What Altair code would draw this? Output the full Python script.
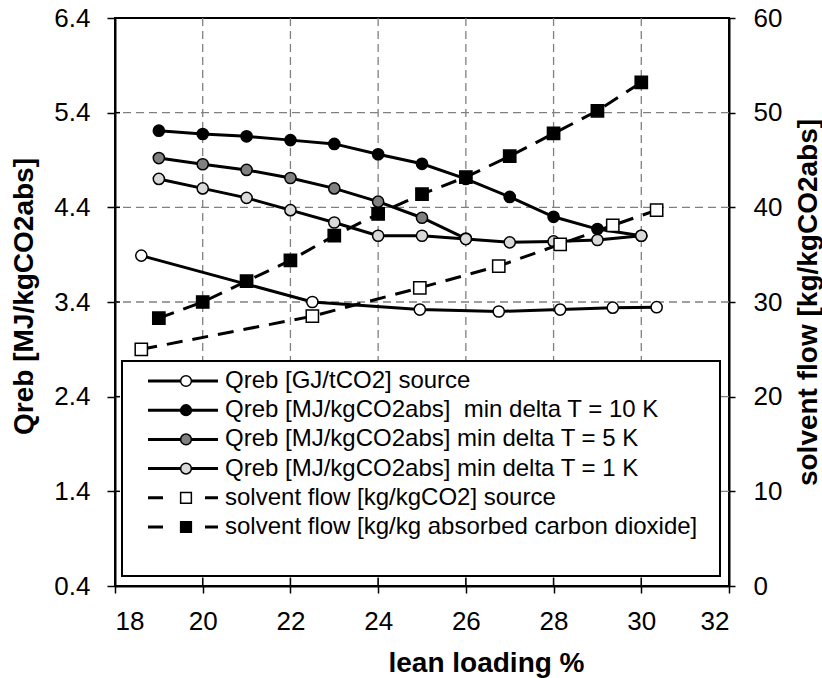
import altair as alt
import pandas as pd

# Lean loading (%) where the published source values were reported
lean_src = [18.6, 22.5, 24.95, 26.75, 28.15, 29.35, 30.35]
qreb_src = [3.89, 3.40, 3.32, 3.30, 3.32, 3.34, 3.345]          # GJ/tCO2
flow_src = [25.0, 28.5, 31.5, 33.8, 36.1, 38.1, 39.7]           # kg/kgCO2

# Simulated cases
lean = [19, 20, 21, 22, 23, 24, 25, 26, 27, 28, 29, 30]
qreb_10k = [5.21, 5.175, 5.15, 5.11, 5.07, 4.96, 4.86, 4.70, 4.51, 4.30, 4.17, 4.10]
lean_5k = [19, 20, 21, 22, 23, 24, 25, 26]
qreb_5k = [4.92, 4.855, 4.795, 4.71, 4.60, 4.46, 4.29, 4.07]
qreb_1k = [4.70, 4.60, 4.50, 4.37, 4.24, 4.10, 4.10, 4.065, 4.03, 4.04, 4.055, 4.10]
flow_abs = [28.3, 30.0, 32.2, 34.4, 37.0, 39.3, 41.4, 43.2, 45.4, 47.8, 50.2, 53.2]

# Axis ticks and grid positions
x_ticks = [18, 20, 22, 24, 26, 28, 30, 32]
q_ticks = [0.4, 1.4, 2.4, 3.4, 4.4, 5.4, 6.4]
flow_ticks = [0, 10, 20, 30, 40, 50, 60]
x_grid = [20, 22, 24, 26, 28, 30]
q_grid = [1.4, 2.4, 3.4, 4.4, 5.4]

legend_labels = [
    "Qreb [GJ/tCO2] source",
    "Qreb [MJ/kgCO2abs]\u00a0 min delta T = 10 K",
    "Qreb [MJ/kgCO2abs] min delta T = 5 K",
    "Qreb [MJ/kgCO2abs] min delta T = 1 K",
    "solvent flow [kg/kgCO2] source",
    "solvent flow [kg/kg absorbed carbon dioxide]",
]
legend_fills = ["white", "black", "#808080", "#d9d9d9", "white", "black"]
legend_shapes = ["circle", "circle", "circle", "circle", "square", "square"]
legend_dashed = [False, False, False, False, True, True]

FONT = "Liberation Sans"

x_enc = alt.X(
    "lean:Q",
    scale=alt.Scale(domain=[18, 32], nice=False, zero=False),
    axis=alt.Axis(
        values=x_ticks, grid=False, tickSize=7, labelPadding=15,
        title="lean loading %", titleX=371, titleY=85,
        titleBaseline="alphabetic", titleAlign="center",
    ),
)

q_axis = alt.Axis(
    values=q_ticks, format=".1f", grid=False, tickSize=8, labelPadding=17,
    title="Qreb [MJ/kgCO2abs]", titleAngle=270, titleX=-91, titleY=278,
    titleBaseline="middle", titleAlign="center",
)
q_scale = alt.Scale(domain=[0.4, 6.4], nice=False, zero=False)

f_axis = alt.Axis(
    values=flow_ticks, grid=False, tickSize=6, labelPadding=18, orient="right",
    title="solvent flow [kg/kgCO2abs]", titleAngle=270, titleX=79, titleY=284,
    titleBaseline="middle", titleAlign="center",
)
f_scale = alt.Scale(domain=[0, 60], nice=False, zero=False)


def qreb_series(xs, ys, fill):
    df = pd.DataFrame({"lean": xs, "q": ys})
    base = alt.Chart(df).encode(x=x_enc, y=alt.Y("q:Q", scale=q_scale, axis=q_axis))
    line = base.mark_line(color="black", strokeWidth=3)
    pts = base.mark_point(shape="circle", filled=True, size=125, fill=fill,
                          stroke="black", strokeWidth=1.5, opacity=1)
    return [line, pts]


def flow_series(xs, ys, fill):
    df = pd.DataFrame({"lean": xs, "f": ys})
    base = alt.Chart(df).encode(x=x_enc, y=alt.Y("f:Q", scale=f_scale, axis=f_axis))
    line = base.mark_line(color="black", strokeWidth=3, strokeDash=[16, 10])
    pts = base.mark_point(shape="square", filled=True, size=150, fill=fill,
                          stroke="black", strokeWidth=1.5, opacity=1)
    return [line, pts]


grid_style = dict(color="#808080", strokeWidth=1.3, strokeDash=[8, 5])
vgrid = alt.Chart(pd.DataFrame({"lean": x_grid})).mark_rule(**grid_style).encode(x=x_enc)
hgrid = alt.Chart(pd.DataFrame({"q": q_grid})).mark_rule(**grid_style).encode(
    y=alt.Y("q:Q", scale=q_scale, axis=q_axis)
)

# Short inner halves of the crossing tick marks
x_inner = alt.Chart(pd.DataFrame({"lean": x_ticks})).mark_rule(
    color="black", strokeWidth=1.5
).encode(x=x_enc, y=alt.value(560), y2=alt.value(568))
q_inner = alt.Chart(pd.DataFrame({"q": q_ticks})).mark_rule(
    color="black", strokeWidth=1.5
).encode(y=alt.Y("q:Q", scale=q_scale, axis=q_axis), x=alt.value(0), x2=alt.value(5))

left = alt.layer(
    vgrid, hgrid, x_inner, q_inner,
    *qreb_series(lean_src, qreb_src, "white"),
    *qreb_series(lean, qreb_10k, "black"),
    *qreb_series(lean_5k, qreb_5k, "#808080"),
    *qreb_series(lean, qreb_1k, "#d9d9d9"),
)

right = alt.layer(
    *flow_series(lean_src, flow_src, "white"),
    *flow_series(lean, flow_abs, "black"),
)

# Legend box drawn inside the plot area
leg_df = pd.DataFrame({
    "row": list(range(len(legend_labels))),
    "label": legend_labels,
    "fill": legend_fills,
    "shape": legend_shapes,
    "dashed": legend_dashed,
})
row_y = alt.Y("row:Q", scale=alt.Scale(domain=[0, 5], range=[363, 509]), axis=None)

leg_box = alt.Chart(alt.Data(values=[{}])).mark_rect(
    fill="white", stroke="black", strokeWidth=2
).encode(x=alt.value(7), x2=alt.value(605), y=alt.value(343), y2=alt.value(558))

leg_base = alt.Chart(leg_df).encode(y=row_y)
leg_solid = leg_base.transform_filter("!datum.dashed").mark_rule(
    color="black", strokeWidth=3
).encode(x=alt.value(33), x2=alt.value(103))
leg_dash = leg_base.transform_filter("datum.dashed").mark_rule(
    color="black", strokeWidth=3, strokeDash=[15, 42]
).encode(x=alt.value(33), x2=alt.value(103))
leg_pts = leg_base.mark_point(filled=True, size=115, stroke="black",
                              strokeWidth=1.5, opacity=1).encode(
    x=alt.value(71),
    fill=alt.Fill("fill:N", scale=None),
    shape=alt.Shape("shape:N", scale=None),
)
leg_text = leg_base.mark_text(
    align="left", baseline="middle", font=FONT, fontSize=24, color="black"
).encode(x=alt.value(110), text="label:N")

legend = alt.layer(leg_box, leg_solid, leg_dash, leg_pts, leg_text)

chart = (
    alt.layer(left, right, legend)
    .resolve_scale(y="independent")
    .properties(
        width=614, height=568,
        autosize=alt.AutoSizeParams(type="none"),
        padding={"left": 115, "top": 18, "right": 93, "bottom": 92},
    )
    .configure_view(stroke="black", strokeWidth=2)
    .configure_axis(
        labelFont=FONT, labelFontSize=26, labelColor="black",
        titleFont=FONT, titleFontSize=28, titleFontWeight="bold", titleColor="black",
        domainColor="black", domainWidth=2, tickColor="black", tickWidth=1.5,
    )
)

chart.save("out.html", embed_options={"renderer": "svg", "actions": False})
